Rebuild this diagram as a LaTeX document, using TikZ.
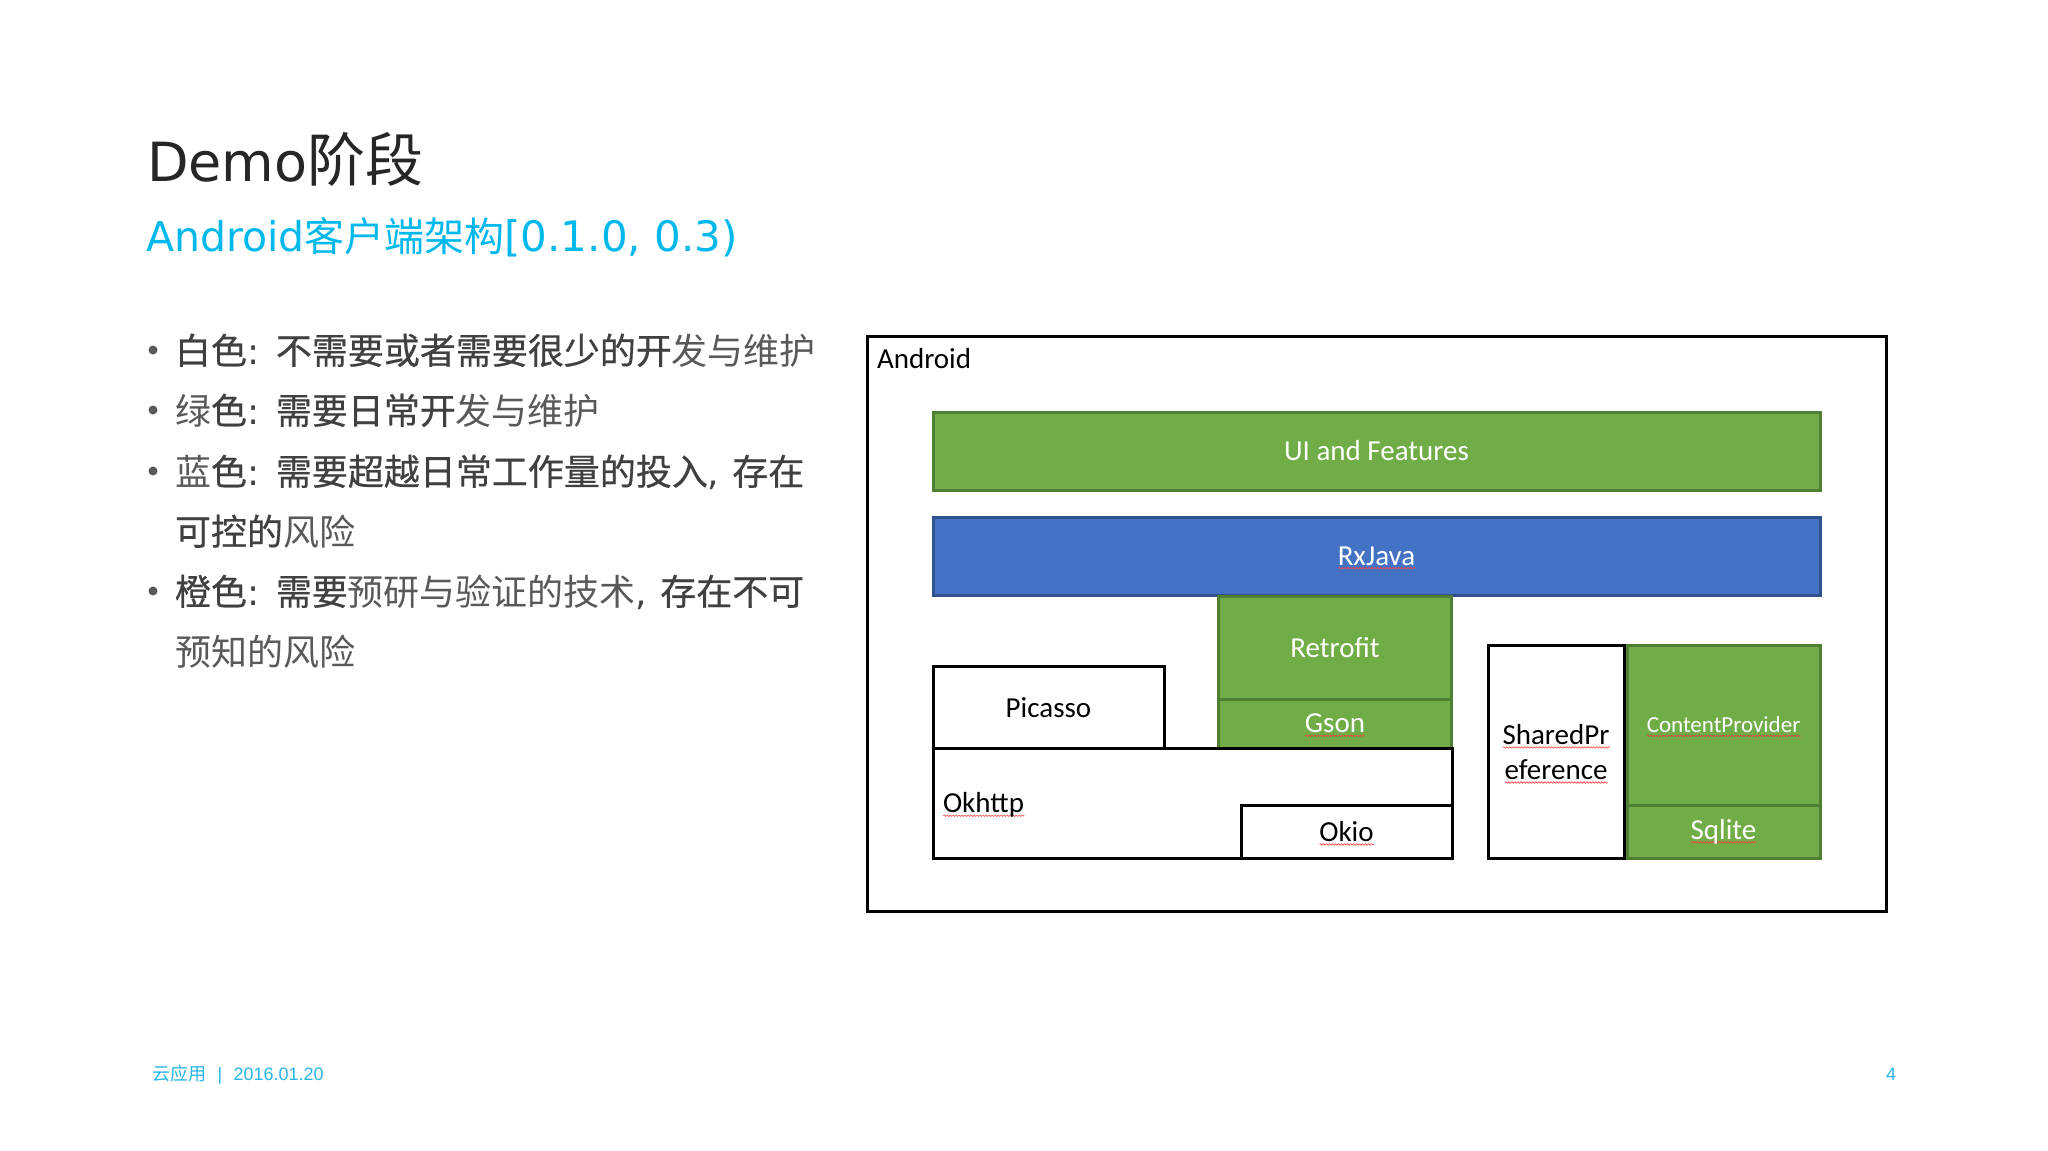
\documentclass[tikz,border=0pt]{standalone}
\usepackage{fontspec}
\usetikzlibrary{decorations.pathmorphing}
\setmainfont{DejaVu Sans}
\newfontfamily\carlitofont{Carlito}
\newfontfamily\footfont{Liberation Sans}
\newfontfamily\cjklight{Noto Sans CJK SC}
\newfontfamily\cjkheavy[FakeBold=0.5]{Noto Sans CJK SC}
\definecolor{titlegrey}{HTML}{262626}
\definecolor{subcyan}{HTML}{00B8EC}
\definecolor{footcyan}{HTML}{27B5E6}
\definecolor{bodydark}{HTML}{404040}
\definecolor{bodylight}{HTML}{595959}
\definecolor{boxgreen}{HTML}{70AD47}
\definecolor{boxgreenline}{HTML}{4F7F33}
\definecolor{boxblue}{HTML}{4472C4}
\definecolor{boxblueline}{HTML}{2F528F}
\newcommand\hv{\cjkheavy\color{bodydark}}
\newcommand\lt{\cjklight\color{bodylight}}
\newcommand\dv[1]{{\rmfamily\color{bodydark}#1\hspace{1.5pt}}}
\newsavebox\spellbox
\newcommand\spell[1]{\sbox\spellbox{#1}\rlap{\smash{\tikz[baseline=3pt]\draw[spellmark] (0,0) -- (\the\wd\spellbox,0);}}\usebox\spellbox}
\tikzset{
  spellmark/.style={draw=red!75,line width=0.6pt,decorate,decoration={snake,amplitude=0.8pt,segment length=3pt}},
  slide/.style={anchor=base west,inner sep=0pt,outer sep=0pt},
  bodyline/.style={slide,font=\fontsize{36}{40}\selectfont},
  dot/.style={circle,fill=bodylight,inner sep=0pt,minimum size=9pt},
  foot/.style={slide,text=footcyan,font=\footfont\fontsize{18}{20}\selectfont},
  block/.style={rectangle,inner sep=0pt,outer sep=0pt,align=center,font=\carlitofont\fontsize{29}{35}\selectfont},
  whitebox/.style={block,draw=black,line width=3pt,fill=white,text=black},
  greenbox/.style={block,draw=boxgreenline,line width=3pt,fill=boxgreen,text=white},
  bluebox/.style={block,draw=boxblueline,line width=3pt,fill=boxblue,text=white},
  plainlabel/.style={inner sep=0pt,outer sep=0pt,text=black,font=\carlitofont\fontsize{29}{35}\selectfont}
}
\begin{document}
\begin{tikzpicture}[x=1pt,y=-1pt]
  \useasboundingbox (0,0) rectangle (2048,1151);
  % heading
  \node[slide,text=titlegrey,font=\fontsize{54}{60}\selectfont] (title) at (147,181) {Demo{\cjklight\fontsize{58}{60}\selectfont 阶段}};
  \node[slide,text=subcyan,font=\fontsize{41}{46}\selectfont] (subtitle) at (146,251) {Android{\cjklight\fontsize{40}{46}\selectfont 客户端架构}{\fontsize{42}{46}\selectfont [0.1.0, 0.3)}};
  % bullet list
  \node[dot] (dot1) at (153,350) {};
  \node[dot] (dot2) at (153,410) {};
  \node[dot] (dot3) at (153,471) {};
  \node[dot] (dot4) at (153,591) {};
  \node[bodyline] (line1) at (175,364) {\hv 白色\dv{: }\hv 不需要或者需要很少的开\lt 发与维护};
  \node[bodyline] (line2) at (175,424) {\lt 绿\hv 色\dv{: }\hv 需要日常开\lt 发与维护};
  \node[bodyline] (line3) at (175,485) {\lt 蓝\hv 色\dv{: }\hv 需要超越日常工作量的投入\dv{, }\hv 存在};
  \node[bodyline] (line4) at (175,545) {\hv 可控的\lt 风险};
  \node[bodyline] (line5) at (175,605) {\hv 橙色\dv{: }\hv 需要\lt 预研与验证的技术\dv{, }\hv 存在不可};
  \node[bodyline] (line6) at (175,665) {\lt 预知的风险};
  % architecture
  \node[whitebox,minimum width=1019pt,minimum height=575.5pt] (android) at (1376.5,624) {};
  \node[plainlabel,anchor=west] (androidtext) at (877,359) {Android};
  \node[greenbox,minimum width=887pt,minimum height=78pt] (ui) at (1376.5,451) {UI and Features};
  \node[bluebox,minimum width=887pt,minimum height=78pt] (rxjava) at (1376.5,556) {\spell{RxJava}};
  \node[greenbox,minimum width=232.5pt,minimum height=103pt] (retrofit) at (1335,647.5) {Retrofit};
  \node[greenbox,minimum width=232.5pt,minimum height=49pt] (gson) at (1335,723.5) {\spell{Gson}};
  \node[whitebox,minimum width=231pt,minimum height=82pt,text height=22pt] (picasso) at (1048.5,707) {Picasso};
  \node[whitebox,minimum width=519pt,minimum height=110pt] (okhttp) at (1192.5,803) {};
  \node[plainlabel,anchor=west] (okhttptext) at (943,805) {\spell{Okhttp}};
  \node[whitebox,minimum width=211pt,minimum height=53pt] (okio) at (1346.5,831.5) {\spell{Okio}};
  \node[whitebox,minimum width=136pt,minimum height=213pt] (sharedpref) at (1556,752) {\spell{SharedPr}\\\spell{eference}};
  \node[greenbox,font=\carlitofont\fontsize{23}{28}\selectfont,minimum width=193pt,minimum height=160pt] (provider) at (1723.5,725) {\spell{ContentProvider}};
  \node[greenbox,minimum width=193pt,minimum height=53pt] (sqlite) at (1723.5,831.5) {\spell{Sqlite}};
  % footer
  \node[foot] (footdate) at (152,1080) {{\cjklight 云应用}\hspace{11.5pt}|\hspace{11.5pt}2016.01.20};
  \node[foot] (footpage) at (1886,1080) {4};
\end{tikzpicture}
\end{document}
